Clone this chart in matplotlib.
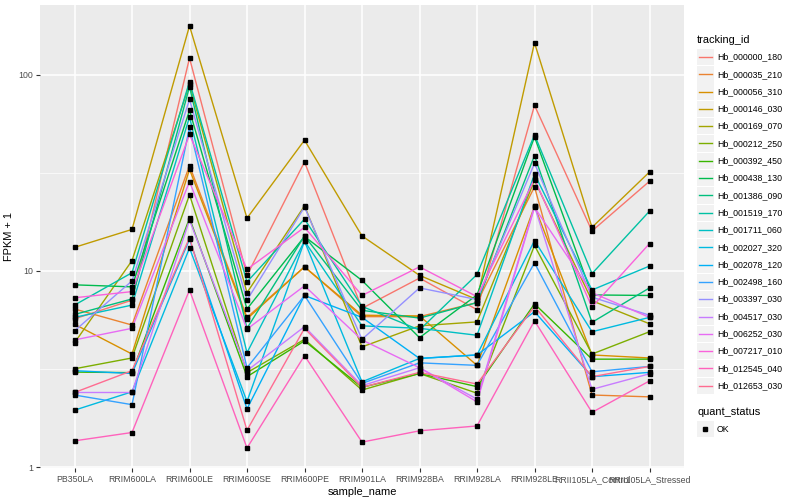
import matplotlib
matplotlib.use("Agg")
import matplotlib.pyplot as plt
import matplotlib.lines as mlines
import matplotlib.patches as mpatches
from matplotlib.ticker import FixedLocator, NullFormatter

plt.rcParams['font.family'] = ['Liberation Sans', 'DejaVu Sans']

# samples on the x axis
samples = ['PB350LA', 'RRIM600LA', 'RRIM600LE', 'RRIM600SE', 'RRIM600PE', 'RRIM901LA',
           'RRIM928BA', 'RRIM928LA', 'RRIM928LE', 'RRII105LA_Control', 'RRII105LA_Stressed']

# FPKM + 1 per gene
tracking_ids = ['Hb_000000_180', 'Hb_000035_210', 'Hb_000056_310', 'Hb_000146_030',
                'Hb_000169_070', 'Hb_000212_250', 'Hb_000392_450', 'Hb_000438_130',
                'Hb_001386_090', 'Hb_001519_170', 'Hb_001711_060', 'Hb_002027_320',
                'Hb_002078_120', 'Hb_002498_160', 'Hb_003397_030', 'Hb_004517_030',
                'Hb_006252_030', 'Hb_007217_010', 'Hb_012545_040', 'Hb_012653_030']

hb_000000_180 = [5.7, 7.1, 122, 9.5, 36, 6.45, 9.2, 6.35, 70, 16.0, 28.7]
hb_000035_210 = [6.4, 5.3, 34.5, 5.8, 10.5, 5.85, 5.85, 6.9, 26.9, 2.33, 2.28]
hb_000056_310 = [5.35, 3.77, 33, 5.7, 10.5, 5.95, 5.9, 3.3, 21.4, 3.73, 3.6]
hb_000146_030 = [13.2, 16.3, 178, 18.6, 46.5, 15.1, 9.5, 7.15, 146, 16.7, 32]
hb_000169_070 = [4.3, 11.3, 90, 7.75, 21.5, 4.1, 5.25, 5.5, 29, 7.05, 5.38]
hb_000212_250 = [3.17, 3.6, 24.5, 3.03, 4.48, 2.47, 3.0, 2.38, 13.5, 3.77, 4.9]
hb_000392_450 = [3.05, 3.03, 18.6, 2.89, 4.4, 2.55, 3.0, 2.57, 6.8, 3.55, 3.55]
hb_000438_130 = [8.5, 8.3, 66, 6.4, 15.0, 8.95, 4.57, 7.55, 48.3, 7.55, 7.5]
hb_001386_090 = [6.0, 7.2, 87, 5.1, 15.1, 6.3, 5.75, 6.9, 38.8, 5.47, 8.2]
hb_001519_170 = [6.7, 9.8, 92.5, 8.8, 18.4, 6.6, 5.0, 9.6, 49.5, 9.7, 20.2]
hb_001711_060 = [5.8, 6.7, 61, 3.83, 14.2, 5.25, 5.1, 4.7, 31.2, 8.0, 10.6]
hb_002027_320 = [1.95, 2.42, 13.1, 2.16, 14.2, 2.72, 3.58, 3.73, 14.3, 4.9, 5.8]
hb_002078_120 = [3.1, 3.0, 14.5, 1.98, 7.5, 5.8, 3.58, 3.73, 6.2, 2.89, 3.04]
hb_002498_160 = [2.33, 2.08, 54, 3.21, 7.5, 2.67, 3.4, 3.3, 11.0, 3.06, 3.26]
hb_003397_030 = [4.95, 8.9, 75, 7.1, 21.2, 4.48, 8.2, 7.15, 35.4, 7.35, 5.95]
hb_004517_030 = [2.4, 2.4, 18.2, 3.1, 5.2, 2.6, 3.21, 2.22, 21.4, 2.49, 2.99]
hb_006252_030 = [4.45, 5.1, 28.6, 5.05, 8.4, 4.45, 3.21, 2.15, 21.1, 7.75, 5.8]
hb_007217_010 = [7.3, 7.85, 49.7, 10.2, 16.7, 7.5, 10.5, 7.4, 29.4, 6.55, 13.8]
hb_012545_040 = [1.36, 1.5, 8.0, 1.25, 3.7, 1.34, 1.53, 1.62, 5.57, 1.9, 2.75]
hb_012653_030 = [2.4, 3.1, 14.8, 1.54, 5.1, 2.55, 3.04, 2.65, 6.6, 2.89, 3.26]

series = [hb_000000_180, hb_000035_210, hb_000056_310, hb_000146_030, hb_000169_070,
          hb_000212_250, hb_000392_450, hb_000438_130, hb_001386_090, hb_001519_170,
          hb_001711_060, hb_002027_320, hb_002078_120, hb_002498_160, hb_003397_030,
          hb_004517_030, hb_006252_030, hb_007217_010, hb_012545_040, hb_012653_030]

# ggplot default hue palette for 20 levels
colors = ['#F8766D', '#EA8331', '#D89000', '#C09B00', '#A3A500', '#7CAE00', '#39B600',
          '#00BB4E', '#00BF7D', '#00C1A3', '#00BFC4', '#00BAE0', '#00B0F6', '#35A2FF',
          '#9590FF', '#C77CFF', '#E76BF3', '#FA62DB', '#FF62BC', '#FF6C91']

W, H = 800, 500
fig = plt.figure(figsize=(8, 5), dpi=100)
ax = fig.add_axes([40 / W, (H - 468) / H, (684 - 40) / W, (468 - 5) / H])
ax.set_facecolor('#EBEBEB')

xs = list(range(len(samples)))
for vals, c in zip(series, colors):
    ax.plot(xs, vals, color=c, linewidth=1.0, zorder=3)
for vals in series:
    ax.plot(xs, vals, linestyle='none', marker='s', markersize=2.6,
            color='black', zorder=4)

ax.set_yscale('log')
ax.set_ylim(10 ** -0.005, 10 ** 2.357)
ax.set_xlim(-0.6, len(samples) - 0.4)

ax.yaxis.set_major_locator(FixedLocator([1, 10, 100]))
ax.yaxis.set_minor_locator(FixedLocator([10 ** 0.5, 10 ** 1.5]))
ax.yaxis.set_minor_formatter(NullFormatter())
ax.set_yticklabels(['1', '10', '100'])
ax.set_xticks(xs)
ax.set_xticklabels(samples)

ax.grid(which='major', color='white', linewidth=1.1, zorder=0)
ax.grid(which='minor', axis='y', color='white', linewidth=0.5, zorder=0)
ax.set_axisbelow(True)
for s in ax.spines.values():
    s.set_visible(False)
ax.tick_params(axis='both', which='major', length=3, width=0.8, color='#333333',
               labelsize=6.3, labelcolor='#4D4D4D', pad=2)
ax.tick_params(axis='y', which='minor', length=0)

ax.set_xlabel('sample_name', fontsize=7.9, labelpad=2)
ax.set_ylabel('FPKM + 1', fontsize=7.9, labelpad=3)

# legend for tracking_id, drawn in pixel positions
def fx(px):
    return px / W

def fy(py):
    return 1 - py / H

fig.text(fx(697), fy(40), 'tracking_id', fontsize=7.9, va='center', ha='left')
row0, step = 57, 17.3
for i, (tid, c) in enumerate(zip(tracking_ids, colors)):
    yc = row0 + i * step
    fig.patches.append(mpatches.Rectangle((fx(697), fy(yc + 8.2)), 16.5 / W, 16.4 / H,
                                          transform=fig.transFigure, facecolor='#F2F2F2',
                                          edgecolor='none'))
    fig.lines.append(mlines.Line2D([fx(699), fx(712)], [fy(yc), fy(yc)], color=c,
                                   linewidth=1.0, transform=fig.transFigure))
    fig.text(fx(717), fy(yc), tid, fontsize=6.3, va='center', ha='left')

fig.text(fx(697), fy(412), 'quant_status', fontsize=7.9, va='center', ha='left')
fig.patches.append(mpatches.Rectangle((fx(697), fy(429 + 8.2)), 16.5 / W, 16.4 / H,
                                      transform=fig.transFigure, facecolor='#F2F2F2',
                                      edgecolor='none'))
fig.lines.append(mlines.Line2D([fx(705)], [fy(429)], marker='s', markersize=2.6,
                               color='black', linestyle='none', transform=fig.transFigure))
fig.text(fx(717), fy(429), 'OK', fontsize=6.3, va='center', ha='left')

fig.savefig('out.png', dpi=100)
